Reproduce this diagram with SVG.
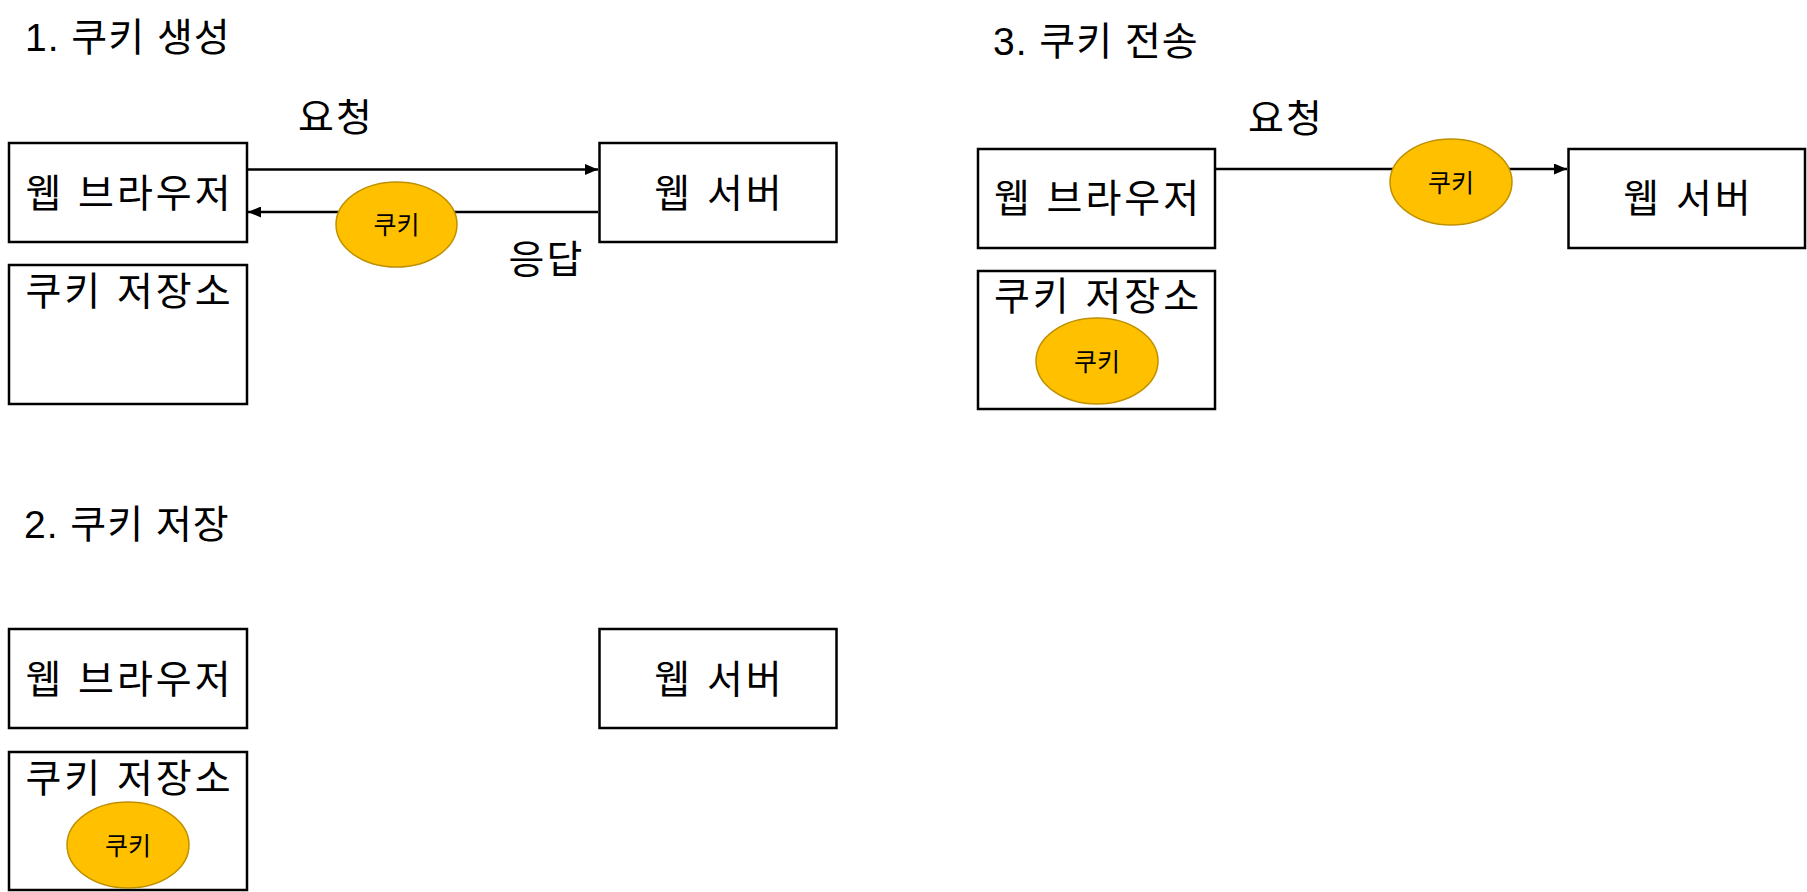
<svg xmlns="http://www.w3.org/2000/svg" width="1807" height="892" viewBox="0 0 1807 892">
<style>
  .box{fill:#fff;stroke:#000;stroke-width:2.5}
  .cookie{fill:#FFC000;stroke:#BF9000;stroke-width:1.5}
  .big{font-family:"Liberation Sans","Noto Sans CJK KR",sans-serif;font-size:39px;fill:#000}
  .title{letter-spacing:1px}
  .lbl{letter-spacing:3px}
  .edge{letter-spacing:2px}
  .small{font-family:"Liberation Sans","Noto Sans CJK KR",sans-serif;font-size:25px;fill:#000}
  .mid{text-anchor:middle;dominant-baseline:central}
  .conn{stroke:#000;stroke-width:2.5;fill:none}
</style>
<defs>
  <marker id="arrow" markerUnits="userSpaceOnUse" markerWidth="13" markerHeight="11" refX="13" refY="5.5" orient="auto">
    <path d="M0,0 L13,5.5 L0,11 Z" fill="#000"/>
  </marker>
</defs>
<rect width="1807" height="892" fill="#fff"/>

<!-- titles -->
<text id="title1" class="big title" x="25" y="51">1. 쿠키 생성</text>
<text id="title2" class="big title" x="24" y="538">2. 쿠키 저장</text>
<text id="title3" class="big title" x="993" y="55">3. 쿠키 전송</text>

<!-- connectors -->
<g id="connectors">
  <line class="conn" x1="248" y1="169.5" x2="598" y2="169.5" marker-end="url(#arrow)"/>
  <line class="conn" x1="598" y1="212" x2="248" y2="212" marker-end="url(#arrow)"/>
  <line class="conn" x1="1216" y1="169" x2="1567" y2="169" marker-end="url(#arrow)"/>
  <text class="big mid edge" x="336" y="117">요청</text>
  <text class="big mid edge" x="546.5" y="259">응답</text>
  <text class="big mid edge" x="1286" y="118">요청</text>
</g>

<!-- section 1 -->
<g id="s1-browser">
  <rect class="box" x="9" y="143" width="238" height="99"/>
  <text class="big mid lbl" x="129.5" y="193">웹 브라우저</text>
</g>
<g id="s1-storage">
  <rect class="box" x="9" y="265" width="238" height="139"/>
  <text class="big mid lbl" x="129.5" y="291">쿠키 저장소</text>
</g>
<g id="s1-server">
  <rect class="box" x="599.5" y="143" width="237" height="99"/>
  <text class="big mid lbl" x="719.5" y="193">웹 서버</text>
</g>
<g id="s1-cookie">
  <ellipse class="cookie" cx="396.5" cy="224.5" rx="60.5" ry="42.5"/>
  <text class="small mid" x="396.5" y="225">쿠키</text>
</g>

<!-- section 2 -->
<g id="s2-browser">
  <rect class="box" x="9" y="629" width="238" height="99"/>
  <text class="big mid lbl" x="129.5" y="679">웹 브라우저</text>
</g>
<g id="s2-server">
  <rect class="box" x="599.5" y="629" width="237" height="99"/>
  <text class="big mid lbl" x="719.5" y="679">웹 서버</text>
</g>
<g id="s2-storage">
  <rect class="box" x="9" y="752" width="238" height="138"/>
  <text class="big mid lbl" x="129.5" y="778.5">쿠키 저장소</text>
</g>
<g id="s2-cookie">
  <ellipse class="cookie" cx="128" cy="845" rx="61" ry="43"/>
  <text class="small mid" x="128" y="845.5">쿠키</text>
</g>

<!-- section 3 -->
<g id="s3-browser">
  <rect class="box" x="978" y="149" width="237" height="99"/>
  <text class="big mid lbl" x="1098" y="198.5">웹 브라우저</text>
</g>
<g id="s3-storage">
  <rect class="box" x="978" y="271" width="237" height="138"/>
  <text class="big mid lbl" x="1098" y="296.5">쿠키 저장소</text>
</g>
<g id="s3-server">
  <rect class="box" x="1568.5" y="149" width="236.5" height="99"/>
  <text class="big mid lbl" x="1688.5" y="198.5">웹 서버</text>
</g>
<g id="s3-cookie-sent">
  <ellipse class="cookie" cx="1451" cy="182" rx="61" ry="43"/>
  <text class="small mid" x="1451" y="182.5">쿠키</text>
</g>
<g id="s3-cookie-stored">
  <ellipse class="cookie" cx="1097" cy="361" rx="61" ry="43"/>
  <text class="small mid" x="1097" y="361.5">쿠키</text>
</g>
</svg>
